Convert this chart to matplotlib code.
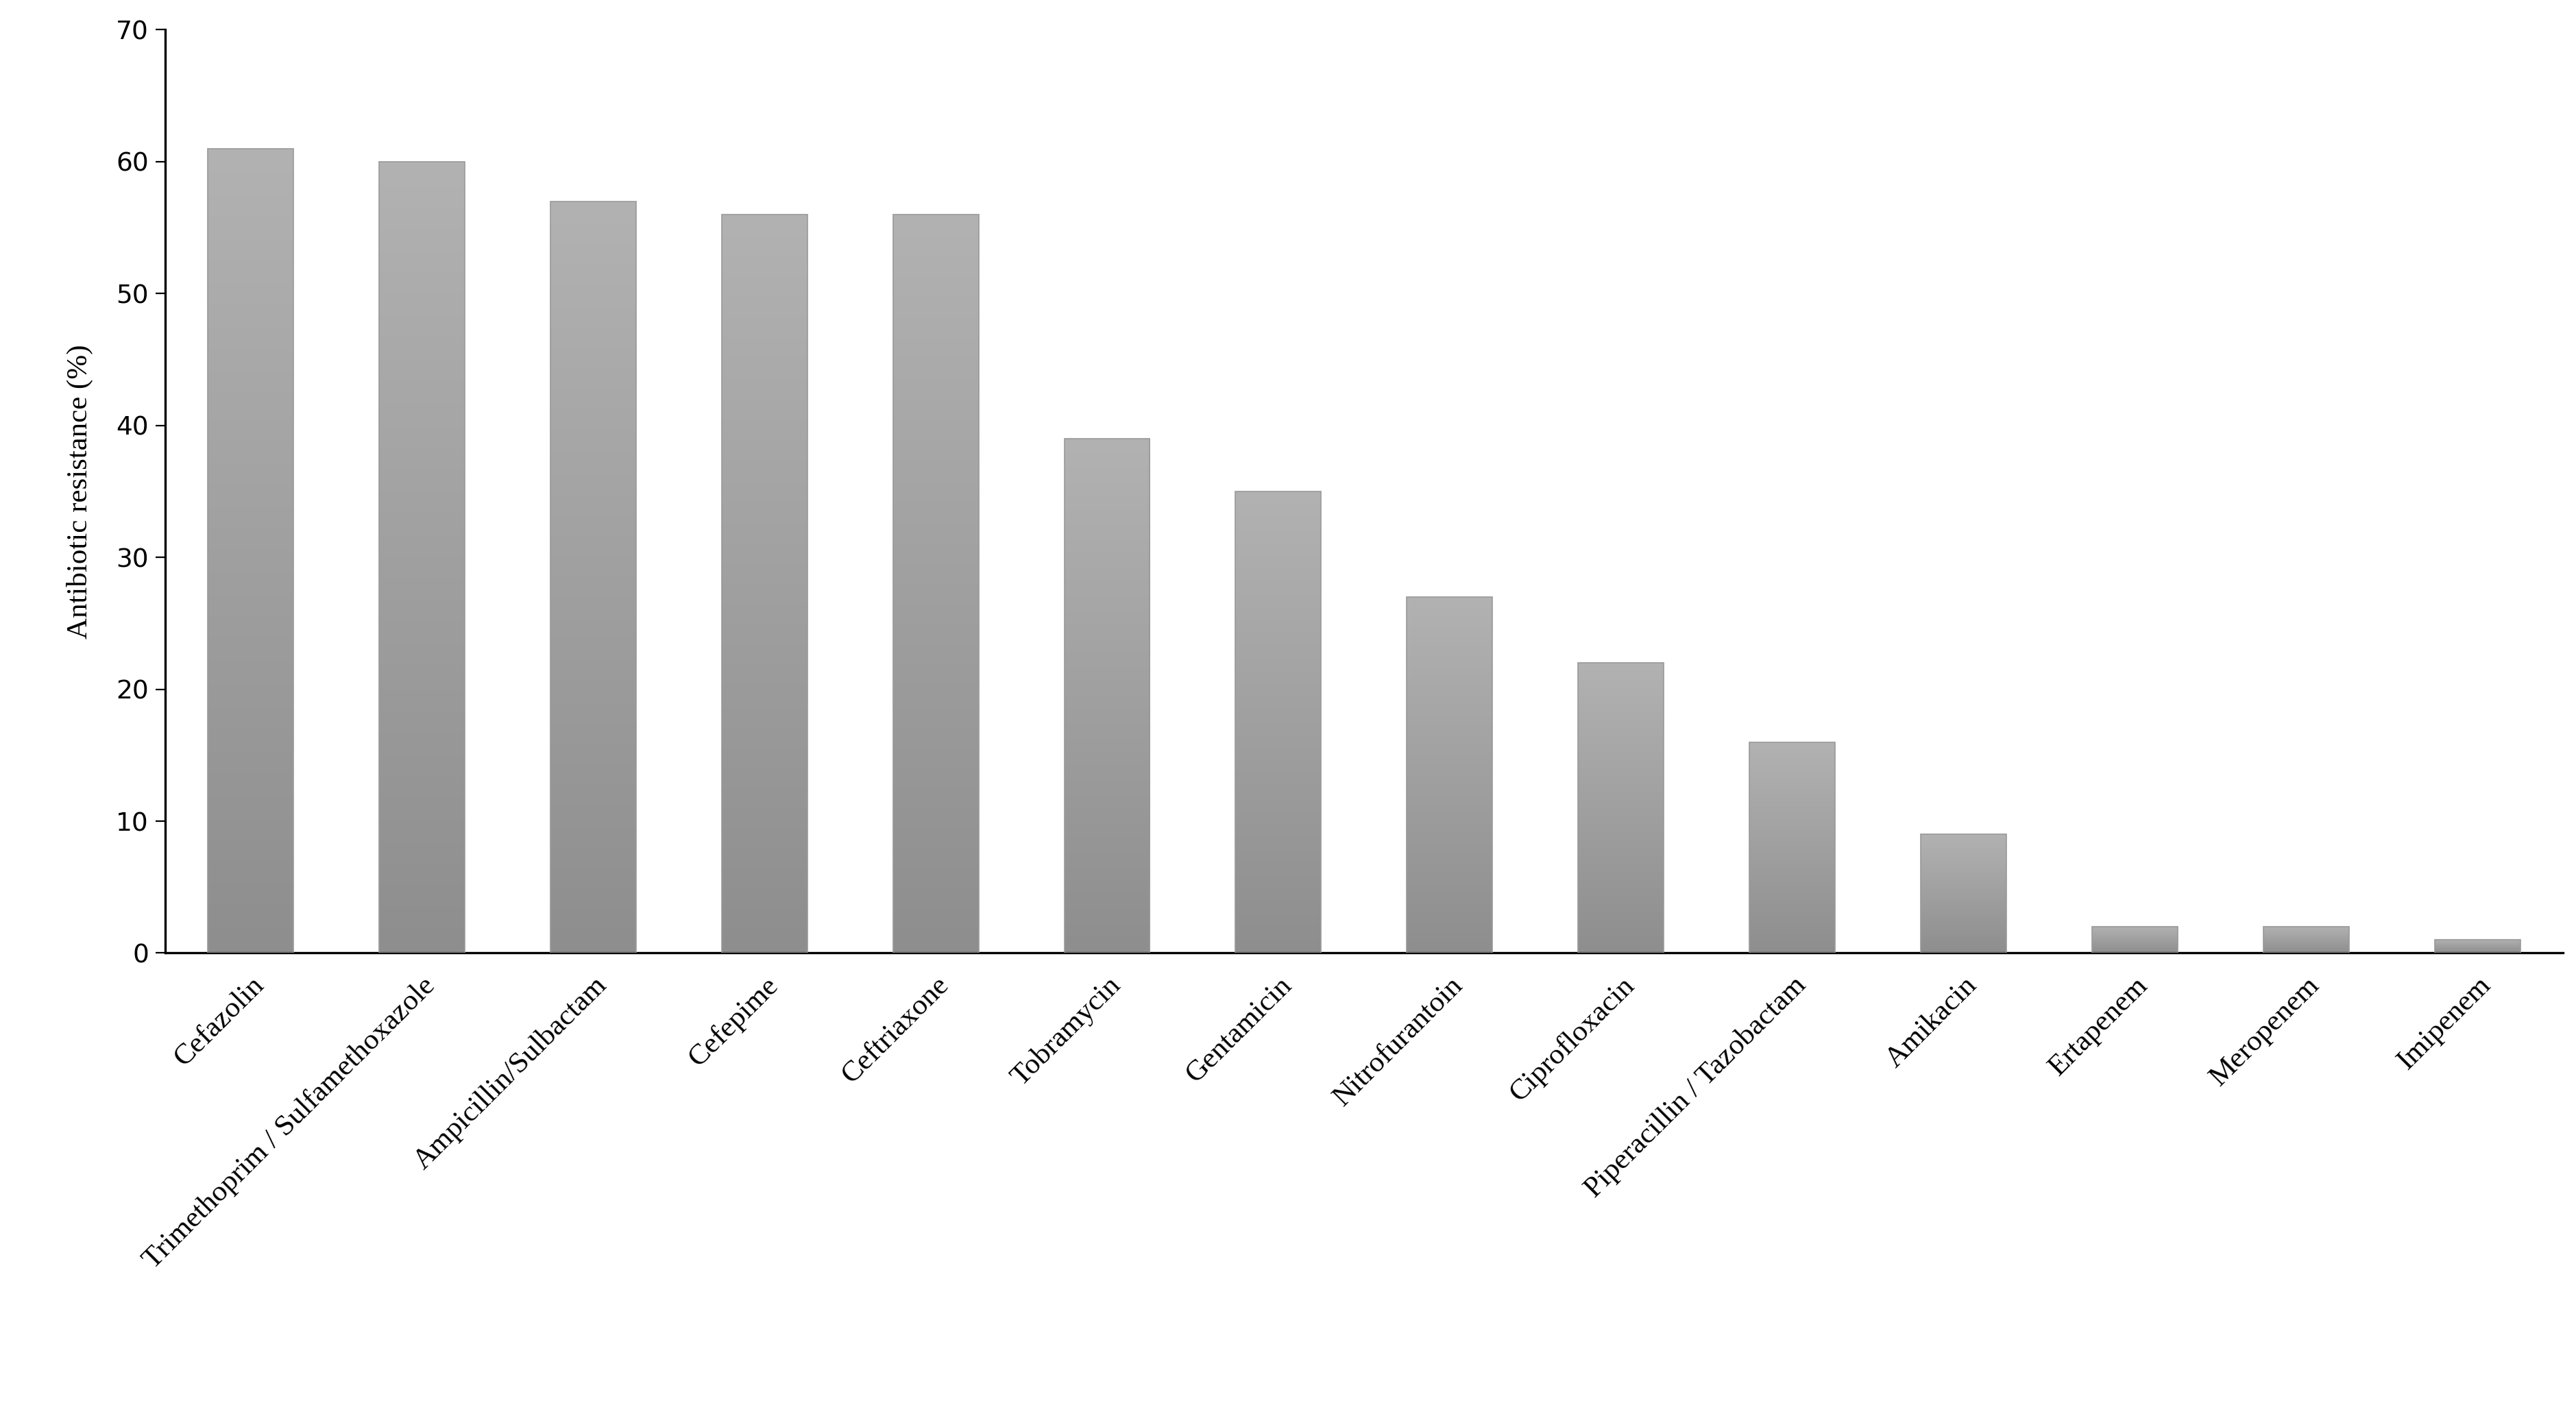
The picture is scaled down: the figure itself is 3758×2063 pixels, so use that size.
import matplotlib
matplotlib.use("Agg")
import matplotlib.pyplot as plt
import numpy as np

categories = ["Cefazolin", "Trimethoprim / Sulfamethoxazole", "Ampicillin/Sulbactam", "Cefepime",
              "Ceftriaxone", "Tobramycin", "Gentamicin", "Nitrofurantoin", "Ciprofloxacin",
              "Piperacillin / Tazobactam", "Amikacin", "Ertapenem", "Meropenem", "Imipenem"]
values = [61, 60, 57, 56, 56, 39, 35, 27, 22, 16, 9, 2, 2, 1]

fig = plt.figure(figsize=(18.79, 10.315), dpi=200)
ax = fig.add_axes([0.064, 0.326, 0.931, 0.653])
x = np.arange(len(categories))
bars = ax.bar(x, values, width=0.5, color="none", edgecolor="none")
grad = np.linspace(0, 1, 256).reshape(-1, 1)
from matplotlib.colors import LinearSegmentedColormap
cmap = LinearSegmentedColormap.from_list("g", ["#8e8e8e", "#b2b2b2"])
for b in bars:
    x0, y0, w, h = b.get_x(), b.get_y(), b.get_width(), b.get_height()
    im = ax.imshow(grad, cmap=cmap, aspect="auto", origin="lower",
                   extent=[x0, x0 + w, y0, y0 + h], zorder=2)
    im.set_clip_path(b)
    ax.add_patch(plt.Rectangle((x0, y0), w, h, facecolor="none", edgecolor="#999999", lw=0.6, zorder=3))

ax.set_xlim(-0.5, len(categories) - 0.5)
ax.set_ylim(0, 70)
ax.set_yticks(range(0, 71, 10))
ax.tick_params(axis="y", labelsize=13.5, length=5, color="black")
ax.tick_params(axis="x", length=0, pad=10)
ax.set_xticks(x)
ax.set_xticklabels(categories, rotation=45, ha="right", rotation_mode="anchor",
                   fontsize=15.5, family="Liberation Serif")
ax.set_ylabel("Antibiotic resistance (%)", fontsize=15.5, family="Liberation Serif", labelpad=12)
for s in ["top", "right"]:
    ax.spines[s].set_visible(False)
for s in ["left", "bottom"]:
    ax.spines[s].set_linewidth(1.2)
fig.savefig("out.png", dpi=200)
